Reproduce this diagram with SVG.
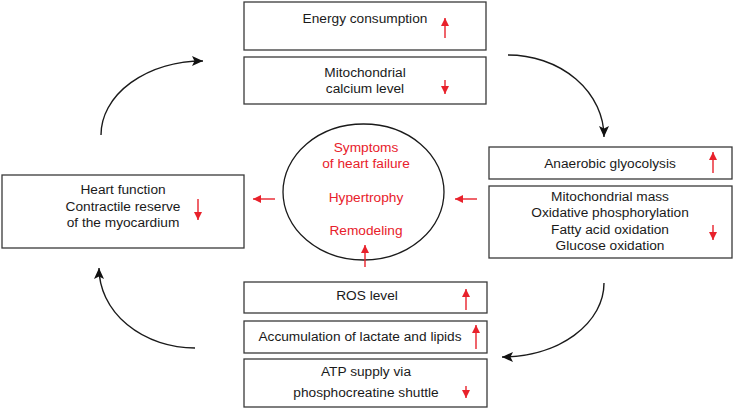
<svg xmlns="http://www.w3.org/2000/svg" width="734" height="410" viewBox="0 0 734 410">
<style>
.box{fill:#fff;stroke:#3a3a3a;stroke-width:1.3}
.t{font-family:"Liberation Sans",Arial,sans-serif;font-size:13.7px;fill:#1a1a1a;text-anchor:middle}
.r{font-family:"Liberation Sans",Arial,sans-serif;font-size:13.7px;fill:#e8212b;text-anchor:middle}
.ra{stroke:#e8212b;stroke-width:1.4;fill:none;marker-end:url(#rh)}
.ba{stroke:#1a1a1a;stroke-width:1.4;fill:none;marker-end:url(#bh)}
</style>
<defs>
<marker id="rh" markerUnits="userSpaceOnUse" markerWidth="10" markerHeight="10" refX="8" refY="4" orient="auto"><path d="M0,0 L8,4 L0,8 z" fill="#e8212b"/></marker>
<marker id="bh" markerUnits="userSpaceOnUse" markerWidth="12" markerHeight="12" refX="11" refY="5" orient="auto"><path d="M0,0 L11,5 L0,10 L2.5,5 z" fill="#111"/></marker>
</defs>
<g id="energy"><rect class="box" x="244" y="2" width="242" height="48"/><text class="t" x="365" y="23">Energy consumption</text><path class="ra" d="M445,38 V18"/></g>
<g id="calcium"><rect class="box" x="244" y="57" width="242" height="47"/><text class="t" x="365" y="77">Mitochondrial</text><text class="t" x="365" y="93">calcium level</text><path class="ra" d="M445,80 V94"/></g>
<g id="anaerobic"><rect class="box" x="489" y="147" width="243" height="32"/><text class="t" x="610" y="168">Anaerobic glyocolysis</text><path class="ra" d="M713,173 V152"/></g>
<g id="mitomass"><rect class="box" x="489" y="186" width="243" height="72"/><text class="t" x="610" y="201">Mitochondrial mass</text><text class="t" x="610" y="217">Oxidative phosphorylation</text><text class="t" x="610" y="234">Fatty acid oxidation</text><text class="t" x="610" y="250">Glucose oxidation</text><path class="ra" d="M713,225 V240"/></g>
<g id="heart"><rect class="box" x="2" y="175" width="242" height="73"/><text class="t" x="123" y="194">Heart function</text><text class="t" x="123" y="211">Contractile reserve</text><text class="t" x="123" y="227">of the myocardium</text><path class="ra" d="M198,199 V220"/></g>
<g id="center"><ellipse cx="363.5" cy="192" rx="80.5" ry="68" fill="#fff" stroke="#1a1a1a" stroke-width="1.3"/><text class="r" x="366" y="152">Symptoms</text><text class="r" x="366" y="168">of heart failure</text><text class="r" x="366" y="202">Hypertrophy</text><text class="r" x="366" y="235">Remodeling</text></g>
<g id="ros"><rect class="box" x="244" y="282" width="243" height="31"/><text class="t" x="367" y="300">ROS level</text><path class="ra" d="M466,310 V289"/></g>
<g id="accum"><rect class="box" x="244" y="321" width="243" height="32"/><text class="t" x="360" y="341">Accumulation of lactate and lipids</text><path class="ra" d="M476,349 V325"/></g>
<g id="atp"><rect class="box" x="244" y="359" width="243" height="48"/><text class="t" x="366" y="376">ATP supply via</text><text class="t" x="366" y="397">phosphocreatine shuttle</text><path class="ra" d="M466,386 V398"/></g>
<g id="connectors">
<path class="ba" d="M101,135 A102,74 0 0 1 203,61"/>
<path class="ba" d="M508,55 A96,82 0 0 1 604,137"/>
<path class="ba" d="M604,283 A102,74 0 0 1 502,357"/>
<path class="ba" d="M195,348 A96,80 0 0 1 99,268"/>
<path class="ra" d="M275,199 H253"/>
<path class="ra" d="M477,199 H455"/>
<path class="ra" d="M365,267 V245"/>
</g>
</svg>
